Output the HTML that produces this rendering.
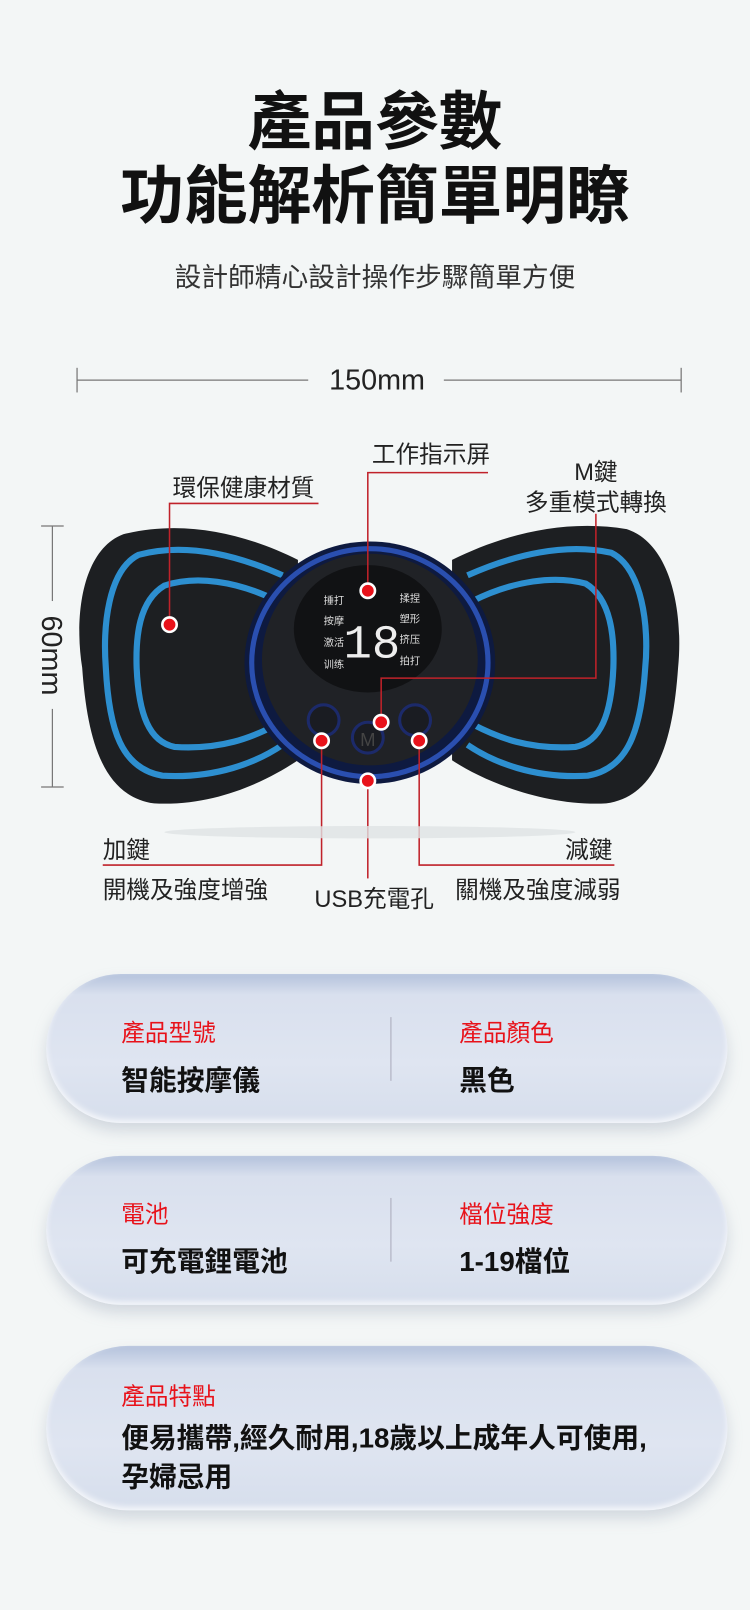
<!DOCTYPE html>
<html><head><meta charset="utf-8"><style>
body{margin:0;width:750px;height:1610px;background:#f3f6f6;font-family:"Liberation Sans","Noto Sans CJK TC",sans-serif;position:relative;overflow:hidden}
#w{position:absolute;left:0;top:0;width:730px;height:1567px;transform:scale(1.0274);transform-origin:0 0}
.t{position:absolute;white-space:nowrap}
.card{position:absolute;left:45px;width:663px;border-radius:80px;background:linear-gradient(#b4c2dc 0%,#d9e0ee 14%,#dfe5f1 60%,#d6deec 100%);box-shadow:0 8px 14px rgba(150,160,180,.35), inset 0 -3px 6px rgba(255,255,255,.8)}
.lab{position:absolute;color:#e8121a;font-size:23px}
.val{position:absolute;color:#111;font-size:27px;font-weight:bold}
.div{position:absolute;width:1px;background:#aab;height:62px}
.l{font-size:23px;color:#222}
</style></head><body><div id="w">
<div class="t" style="left:0;width:730px;text-align:center;top:68px;font-size:62px;font-weight:bold;color:#111">產品參數</div>
<div class="t" style="left:0;width:730px;text-align:center;top:140px;font-size:62px;font-weight:bold;color:#111">功能解析簡單明瞭</div>
<div class="t" style="left:0;width:730px;text-align:center;top:250px;font-size:26px;color:#333">設計師精心設計操作步驟簡單方便</div>

<svg width="730" height="900" style="position:absolute;left:0;top:0" viewBox="0 0 730 900">
<g stroke="#777" stroke-width="1.2" fill="none">
<line x1="75" y1="370" x2="300" y2="370"/><line x1="432" y1="370" x2="663" y2="370"/>
<line x1="75" y1="358" x2="75" y2="382"/><line x1="663" y1="358" x2="663" y2="382"/>
<line x1="40" y1="512" x2="62" y2="512"/><line x1="40" y1="766" x2="62" y2="766"/>
<line x1="51" y1="512" x2="51" y2="585"/><line x1="51" y1="690" x2="51" y2="766"/>
</g>
<text x="367" y="379" font-size="28" text-anchor="middle" fill="#222" font-family="Liberation Sans">150mm</text>
<text transform="translate(41,638) rotate(90)" font-size="28" text-anchor="middle" fill="#222" font-family="Liberation Sans">60mm</text>
<path d="M290,545 C240,520 180,505 120,520 C80,535 72,600 80,650 C85,720 100,775 150,782 C210,785 260,760 290,740 Z" fill="#1d1f22"/>
<path d="M440,545 C490,520 550,505 610,515 C655,530 665,600 660,650 C655,720 640,775 590,782 C530,785 470,760 440,740 Z" fill="#1d1f22"/>
<g fill="none" stroke="#2d8fd0" stroke-width="6">
<path d="M275,560 C230,540 180,528 135,540 C105,555 100,610 103,650 C106,710 118,748 158,755 C210,758 250,742 275,725"/>
<path d="M270,585 C230,565 190,560 160,570 C135,585 132,620 133,650 C135,695 145,722 170,727 C215,730 245,718 270,705"/>
<path d="M455,560 C500,540 550,528 595,538 C625,553 632,610 628,650 C624,710 612,748 572,755 C520,758 480,742 455,725"/>
<path d="M460,585 C500,565 540,560 570,568 C595,583 598,620 597,650 C595,695 585,722 560,727 C515,730 485,718 460,705"/>
</g>
<ellipse cx="360" cy="645" rx="122" ry="118" fill="#0e1a40"/>
<ellipse cx="360" cy="645" rx="115" ry="111" fill="none" stroke="#2a4fb0" stroke-width="5"/>
<ellipse cx="360" cy="642" rx="105" ry="103" fill="#202226"/>
<ellipse cx="358" cy="612" rx="72" ry="62" fill="#111214"/>
<g fill="#ddd" font-size="10" font-family="Noto Sans CJK SC">
<text x="315" y="588">捶打</text><text x="315" y="608">按摩</text><text x="315" y="629">激活</text><text x="315" y="650">训练</text>
<text x="389" y="586">揉捏</text><text x="389" y="606">塑形</text><text x="389" y="626">挤压</text><text x="389" y="647">拍打</text>
</g>
<text x="362" y="640" font-size="46" fill="#eee" text-anchor="middle" font-family="Liberation Mono">18</text>
<g fill="#1a1c22" stroke="#1c2a6a" stroke-width="3">
<circle cx="315" cy="701" r="15"/><circle cx="358" cy="718" r="15"/><circle cx="404" cy="701" r="15"/>
</g>
<text x="358" y="726" font-size="18" fill="#444" text-anchor="middle">M</text>
<g stroke="#c0222a" stroke-width="1.5" fill="none">
<polyline points="310,490 165,490 165,608"/>
<polyline points="475,460 358,460 358,575"/>
<polyline points="580,500 580,660 371,660 371,703"/>
<polyline points="313,721 313,842 100,842"/>
<polyline points="408,721 408,842 598,842"/>
<line x1="358" y1="760" x2="358" y2="855"/>
</g>
<g fill="#e8121a" stroke="#fff" stroke-width="2.5">
<circle cx="165" cy="608" r="7"/><circle cx="358" cy="575" r="7"/><circle cx="371" cy="703" r="7"/>
<circle cx="313" cy="721" r="7"/><circle cx="408" cy="721" r="7"/><circle cx="358" cy="760" r="7"/>
</g>
<ellipse cx="360" cy="810" rx="200" ry="6" fill="#dfe3e5" opacity=".8"/>
</svg>

<div class="t l" style="left:362px;top:423px">工作指示屏</div>
<div class="t l" style="left:168px;top:456px">環保健康材質</div>
<div class="t l" style="left:505px;top:444px;width:150px;text-align:center;line-height:30px">M鍵<br>多重模式轉換</div>
<div class="t l" style="left:100px;top:808px">加鍵</div>
<div class="t l" style="left:100px;top:847px">開機及強度增強</div>
<div class="t l" style="left:306px;top:856px">USB充電孔</div>
<div class="t l" style="left:550px;top:808px">減鍵</div>
<div class="t l" style="left:443px;top:847px">關機及強度減弱</div>

<div class="card" style="top:948px;height:145px"></div>
<div class="lab" style="left:118px;top:986px">產品型號</div>
<div class="val" style="left:118px;top:1030px">智能按摩儀</div>
<div class="div" style="left:380px;top:990px"></div>
<div class="lab" style="left:447px;top:986px">產品顏色</div>
<div class="val" style="left:447px;top:1030px">黑色</div>

<div class="card" style="top:1125px;height:145px"></div>
<div class="lab" style="left:118px;top:1163px">電池</div>
<div class="val" style="left:118px;top:1206px">可充電鋰電池</div>
<div class="div" style="left:380px;top:1166px"></div>
<div class="lab" style="left:447px;top:1163px">檔位強度</div>
<div class="val" style="left:447px;top:1206px">1-19檔位</div>

<div class="card" style="top:1310px;height:160px"></div>
<div class="lab" style="left:118px;top:1340px">產品特點</div>
<div class="val" style="left:118px;top:1381px;line-height:38px">便易攜帶,經久耐用,18歲以上成年人可使用,<br>孕婦忌用</div>
</div></body></html>
